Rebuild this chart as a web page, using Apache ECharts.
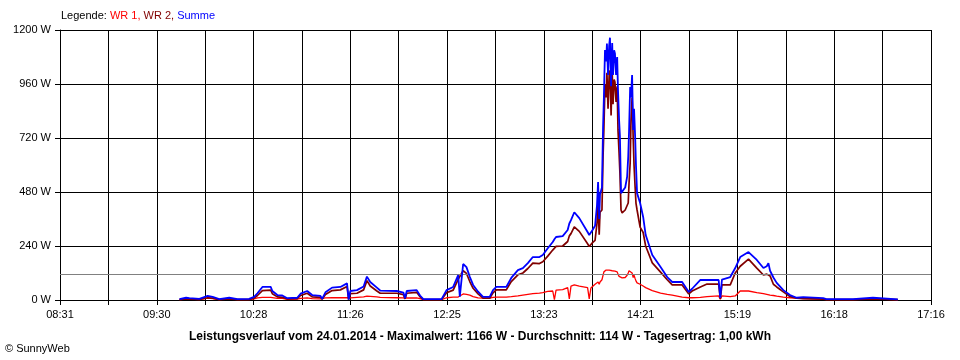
<!DOCTYPE html>
<html>
<head>
<meta charset="utf-8">
<script src="https://cdn.jsdelivr.net/npm/echarts@6/dist/echarts.min.js"></script>
<style>
html,body{margin:0;padding:0;background:#fff;}
#chart{width:960px;height:360px;}
</style>
</head>
<body>
<div id="chart"></div>
<script>
// ---- data ----
const startTime = '08:31';
const endTime = '17:16';
const xTickLabels = ['08:31','09:30','10:28','11:26','12:25','13:23','14:21','15:19','16:18','17:16'];
const yTickValues = [0, 240, 480, 720, 960, 1200];
const averageW = 114;
const titleText = 'Leistungsverlauf vom 24.01.2014 - Maximalwert: 1166 W - Durchschnitt: 114 W - Tagesertrag: 1,00 kWh';

const times = [
 '09:43','09:47','09:49','09:55','10:00','10:03','10:07','10:13','10:18','10:25',
 '10:28','10:30','10:33','10:38','10:39','10:42','10:45','10:48','10:54','10:56',
 '11:00','11:03','11:08','11:09','11:11','11:15','11:20','11:24','11:25','11:26',
 '11:30','11:34','11:36','11:38','11:42','11:44','11:54','11:58','11:59','12:00',
 '12:06','12:08','12:10','12:21','12:24','12:28','12:31','12:32','12:34','12:36',
 '12:38','12:40','12:43','12:46','12:50','12:52','12:54','13:00','13:03','13:07',
 '13:10','13:13','13:16','13:20','13:22','13:25','13:28','13:29','13:30','13:31',
 '13:34','13:37','13:38','13:39','13:41','13:44','13:49','13:50','13:51','13:52',
 '13:53:30','13:54:40','13:55:20','13:56:00','13:56:30','13:57:40','13:58:20','13:58:50','13:59:30','14:00:10',
 '14:00:40','14:01:20','14:02:00','14:02:30','14:03:10','14:03:50','14:04:20','14:05:00','14:05:30','14:06:10',
 '14:06:50','14:07:20','14:08:00','14:08:30','14:09:10','14:09:50','14:10:20','14:11:40','14:12:50','14:13:30',
 '14:14:00','14:14:40','14:15:10','14:15:50','14:16:30','14:17:00','14:17:40','14:18:10','14:18:50','14:20:40',
 '14:22:30','14:24','14:28','14:33','14:37','14:40','14:46','14:50','14:52','14:57',
 '15:01','15:08','15:09','15:10','15:15','15:18','15:21','15:26','15:31','15:35',
 '15:37','15:38','15:39','15:41','15:43','15:47','15:51','15:55','15:59','16:11',
 '16:13','16:29','16:30','16:41','16:42','16:56'
];
const wr1 = [
 2,4,4,2,8,6,2,5,2,2,
 5,9,12,12,10,7,7,3,4,7,
 9,6,5,2,9,10,10,10,2,9,
 12,14,17,16,14,12,10,9,3,9,
 9,6,2,2,10,13,13,13,27,25,
 22,15,9,8,8,12,13,13,15,18,
 22,25,28,31,33,38,40,2,44,44,
 46,55,5,62,67,62,55,5,53,60,
 70,76,80,70,80,90,110,125,133,133,
 133,133,133,133,130,130,128,128,128,128,
 125,115,105,102,100,98,98,100,110,120,
 130,133,133,120,100,110,95,85,76,70,
 62,55,42,31,25,22,13,10,10,12,
 15,18,3,18,15,18,40,40,33,28,
 25,25,22,20,17,13,10,8,6,4,
 2,2,5,5,2,1
];
const wr2 = [
 2,5,4,3,10,8,2,5,2,3,
 8,20,42,44,28,14,12,5,6,20,
 30,14,12,3,24,42,45,60,2,28,
 30,45,86,62,40,30,30,24,5,30,
 34,14,2,2,32,44,92,98,130,118,
 82,52,27,8,8,32,45,45,82,112,
 120,140,164,162,170,195,222,230,238,240,
 240,260,285,295,325,305,250,238,244,255,
 265,340,430,290,390,400,640,760,960,900,
 1010,850,1000,1020,820,1015,870,980,969,880,
 950,756,650,564,400,387,387,400,420,431,
 520,609,800,900,720,600,500,431,400,324,
 300,240,165,124,90,67,67,27,40,58,
 71,71,5,67,67,120,150,182,142,111,
 115,120,107,70,58,36,15,8,6,4,
 2,2,5,5,2,2
];
const summe = [
 4,10,8,5,18,14,4,10,4,5,
 14,30,58,58,40,22,20,8,10,28,
 40,22,18,5,34,55,58,74,2,40,
 44,60,104,80,55,42,40,33,8,40,
 44,20,4,4,44,58,111,15,160,146,
 103,67,37,14,14,44,58,58,98,133,
 142,164,191,191,200,230,258,270,280,284,
 284,311,340,355,390,364,302,289,295,311,
 330,420,524,360,470,500,769,900,1111,1060,
 1140,1000,1130,1166,950,1142,1000,1110,1096,1000,
 1080,933,800,726,475,470,480,500,547,636,
 750,947,900,1000,756,850,726,600,475,431,
 369,290,200,147,102,80,80,36,50,89,
 89,89,9,91,102,142,191,213,178,142,
 150,164,130,100,76,44,22,10,13,8,
 4,4,10,10,4,3
];

// ---- helpers ----
function toSec(t) {
  const p = t.split(':').map(Number);
  return p[0] * 3600 + p[1] * 60 + (p[2] || 0);
}
const t0 = toSec(startTime);
const span = toSec(endTime) - t0;         // 31500 s
const xInterval = span / 18;               // 1750 s
function pts(vals) { return times.map((t, i) => [toSec(t) - t0, vals[i]]); }

const FONT = "'Liberation Sans', Arial, sans-serif";
const chart = echarts.init(document.getElementById('chart'), null, {renderer: 'canvas'});

chart.setOption({
  animation: false,
  backgroundColor: '#ffffff',
  grid: {left: 60, right: 29, top: 30, bottom: 60, containLabel: false},
  xAxis: {
    type: 'value', min: 0, max: span, interval: xInterval,
    axisLine: {show: true, onZero: false, lineStyle: {color: '#000', width: 1}},
    axisTick: {show: true, length: 5, lineStyle: {color: '#000'}},
    splitLine: {show: true, lineStyle: {color: '#000', width: 1}},
    axisLabel: {
      margin: 9, color: '#000', fontFamily: FONT, fontSize: 11,
      showMinLabel: true, showMaxLabel: true,
      formatter: function (v) {
        const idx = Math.round(v / xInterval);
        return idx % 2 === 0 ? (xTickLabels[idx / 2] || '') : '';
      }
    }
  },
  yAxis: {
    type: 'value', min: yTickValues[0], max: yTickValues[yTickValues.length - 1],
    interval: yTickValues[1] - yTickValues[0],
    axisLine: {show: true, lineStyle: {color: '#000', width: 1}},
    axisTick: {show: true, length: 5, lineStyle: {color: '#000'}},
    splitLine: {show: true, lineStyle: {color: '#000', width: 1}},
    axisLabel: {
      margin: 9, color: '#000', fontFamily: FONT, fontSize: 11,
      formatter: function (v) { return String(Math.round(v)) + ' W'; }
    }
  },
  series: [
    {
      name: 'WR 1', type: 'line', data: pts(wr1), showSymbol: false, symbol: 'none',
      lineStyle: {color: '#ff0000', width: 1.3}, z: 3,
      markLine: {
        silent: true, symbol: 'none', label: {show: false},
        lineStyle: {color: '#808080', width: 1, type: 'solid'},
        data: [{yAxis: averageW}]
      }
    },
    {
      name: 'WR 2', type: 'line', data: pts(wr2), showSymbol: false, symbol: 'none',
      lineStyle: {color: '#800000', width: 1.7}, z: 4
    },
    {
      name: 'Summe', type: 'line', data: pts(summe), showSymbol: false, symbol: 'none',
      lineStyle: {color: '#0000ff', width: 1.8}, z: 5
    }
  ],
  graphic: [
    {
      type: 'text', left: 61, top: 10,
      style: {
        text: '{k|Legende: }{a|WR 1, }{b|WR 2, }{c|Summe}',
        rich: {
          k: {fill: '#000', fontFamily: FONT, fontSize: 11},
          a: {fill: '#ff0000', fontFamily: FONT, fontSize: 11},
          b: {fill: '#800000', fontFamily: FONT, fontSize: 11},
          c: {fill: '#0000ff', fontFamily: FONT, fontSize: 11}
        }
      }
    },
    {
      type: 'text', x: 480, y: 337,
      style: {text: titleText, fill: '#000', fontFamily: FONT, fontSize: 12, fontWeight: 'bold',
              align: 'center', verticalAlign: 'middle'}
    },
    {
      type: 'text', x: 5, y: 349,
      style: {text: '\u00A9 SunnyWeb', fill: '#000', fontFamily: FONT, fontSize: 11,
              align: 'left', verticalAlign: 'middle'}
    }
  ]
});
</script>
</body>
</html>
